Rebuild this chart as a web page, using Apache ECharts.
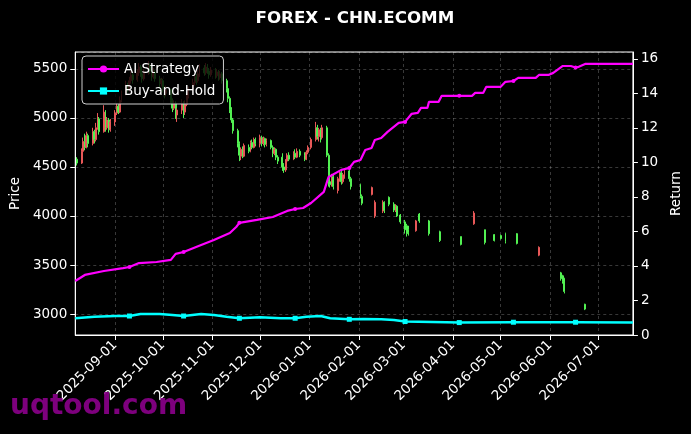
<!DOCTYPE html>
<html>
<head>
<meta charset="utf-8">
<script src="https://cdn.jsdelivr.net/npm/echarts@6/dist/echarts.min.js"></script>
<style>
  html, body { margin: 0; padding: 0; background: #000; }
  #chart { width: 691px; height: 434px; }
</style>
</head>
<body>
<div id="chart"></div>
<script>
// daily candles: [date, open, close, low, high]
const ohlc = [
  ['2025-08-08', 4580, 4540, 4515, 4600],
  ['2025-08-11', 4540, 4660, 4530, 4690],
  ['2025-08-12', 4660, 4760, 4640, 4800],
  ['2025-08-13', 4760, 4700, 4670, 4840],
  ['2025-08-14', 4700, 4820, 4690, 4860],
  ['2025-08-15', 4820, 4740, 4700, 4840],
  ['2025-08-18', 4740, 4860, 4720, 4900],
  ['2025-08-19', 4860, 4780, 4740, 4880],
  ['2025-08-20', 4780, 4900, 4760, 4950],
  ['2025-08-21', 4900, 4990, 4880, 5050],
  ['2025-08-22', 4990, 4860, 4830, 5010],
  ['2025-08-25', 4860, 5060, 4850, 5130],
  ['2025-08-26', 5060, 4900, 4860, 5080],
  ['2025-08-27', 4900, 4980, 4880, 5010],
  ['2025-08-28', 4980, 4880, 4850, 5000],
  ['2025-08-29', 4880, 4960, 4860, 4990],
  ['2025-09-01', 4960, 5050, 4920, 5080],
  ['2025-09-02', 5050, 5120, 5030, 5150],
  ['2025-09-03', 5120, 5060, 5040, 5140],
  ['2025-09-04', 5060, 5180, 5050, 5220],
  ['2025-09-05', 5180, 5250, 5160, 5280],
  ['2025-09-08', 5250, 5330, 5230, 5380],
  ['2025-09-09', 5330, 5290, 5260, 5360],
  ['2025-09-10', 5290, 5380, 5270, 5420],
  ['2025-09-11', 5380, 5440, 5350, 5480],
  ['2025-09-12', 5440, 5390, 5350, 5460],
  ['2025-09-15', 5390, 5460, 5370, 5500],
  ['2025-09-16', 5460, 5520, 5430, 5560],
  ['2025-09-17', 5520, 5450, 5420, 5540],
  ['2025-09-18', 5450, 5400, 5360, 5480],
  ['2025-09-19', 5400, 5470, 5380, 5500],
  ['2025-09-22', 5470, 5530, 5440, 5580],
  ['2025-09-23', 5530, 5480, 5450, 5560],
  ['2025-09-24', 5480, 5420, 5380, 5500],
  ['2025-09-25', 5420, 5470, 5400, 5510],
  ['2025-09-26', 5470, 5400, 5370, 5490],
  ['2025-09-29', 5400, 5350, 5300, 5430],
  ['2025-09-30', 5350, 5380, 5320, 5410],
  ['2025-10-01', 5380, 5300, 5260, 5400],
  ['2025-10-02', 5300, 5250, 5200, 5320],
  ['2025-10-03', 5250, 5290, 5220, 5330],
  ['2025-10-06', 5290, 5180, 5150, 5300],
  ['2025-10-07', 5180, 5100, 5060, 5200],
  ['2025-10-08', 5100, 5150, 5080, 5180],
  ['2025-10-09', 5150, 5030, 4990, 5170],
  ['2025-10-10', 5030, 5080, 4960, 5100],
  ['2025-10-13', 5080, 5150, 5040, 5190],
  ['2025-10-14', 5150, 5060, 5000, 5170],
  ['2025-10-15', 5060, 5140, 5030, 5180],
  ['2025-10-16', 5140, 5220, 5120, 5250],
  ['2025-10-17', 5220, 5290, 5200, 5320],
  ['2025-10-20', 5290, 5360, 5270, 5400],
  ['2025-10-21', 5360, 5420, 5330, 5460],
  ['2025-10-22', 5420, 5380, 5340, 5450],
  ['2025-10-23', 5380, 5450, 5360, 5490],
  ['2025-10-24', 5450, 5510, 5420, 5550],
  ['2025-10-27', 5510, 5460, 5430, 5540],
  ['2025-10-28', 5460, 5520, 5440, 5560],
  ['2025-10-29', 5520, 5480, 5450, 5550],
  ['2025-10-30', 5480, 5440, 5400, 5510],
  ['2025-10-31', 5440, 5490, 5420, 5520],
  ['2025-11-03', 5490, 5430, 5400, 5510],
  ['2025-11-04', 5430, 5470, 5410, 5500],
  ['2025-11-05', 5470, 5410, 5380, 5490],
  ['2025-11-06', 5410, 5450, 5390, 5480],
  ['2025-11-07', 5450, 5380, 5350, 5470],
  ['2025-11-10', 5380, 5300, 5260, 5400],
  ['2025-11-11', 5300, 5200, 5160, 5320],
  ['2025-11-12', 5200, 5090, 5050, 5220],
  ['2025-11-13', 5090, 4980, 4950, 5110],
  ['2025-11-14', 4980, 4870, 4840, 5000],
  ['2025-11-17', 4870, 4740, 4700, 4890],
  ['2025-11-18', 4740, 4620, 4560, 4760],
  ['2025-11-19', 4610, 4680, 4570, 4700],
  ['2025-11-20', 4680, 4610, 4590, 4710],
  ['2025-11-21', 4610, 4720, 4600, 4740],
  ['2025-11-24', 4700, 4660, 4640, 4730],
  ['2025-11-25', 4660, 4750, 4650, 4770],
  ['2025-11-26', 4750, 4700, 4680, 4780],
  ['2025-11-27', 4700, 4780, 4690, 4800],
  ['2025-11-28', 4780, 4740, 4710, 4800],
  ['2025-12-01', 4740, 4800, 4700, 4830],
  ['2025-12-02', 4800, 4740, 4710, 4820],
  ['2025-12-03', 4740, 4790, 4720, 4810],
  ['2025-12-04', 4790, 4730, 4700, 4800],
  ['2025-12-05', 4730, 4770, 4710, 4790],
  ['2025-12-08', 4770, 4700, 4680, 4780],
  ['2025-12-09', 4700, 4640, 4600, 4720],
  ['2025-12-10', 4640, 4680, 4620, 4700],
  ['2025-12-11', 4680, 4600, 4570, 4690],
  ['2025-12-12', 4600, 4560, 4530, 4620],
  ['2025-12-15', 4600, 4500, 4460, 4640],
  ['2025-12-16', 4500, 4470, 4440, 4540],
  ['2025-12-17', 4470, 4560, 4450, 4580],
  ['2025-12-18', 4560, 4620, 4540, 4640],
  ['2025-12-19', 4620, 4580, 4560, 4650],
  ['2025-12-22', 4580, 4640, 4570, 4660],
  ['2025-12-23', 4640, 4600, 4580, 4680],
  ['2025-12-24', 4600, 4660, 4590, 4690],
  ['2025-12-26', 4660, 4620, 4600, 4680],
  ['2025-12-29', 4620, 4580, 4560, 4650],
  ['2025-12-30', 4580, 4650, 4570, 4670],
  ['2025-12-31', 4650, 4700, 4630, 4720],
  ['2026-01-02', 4700, 4780, 4680, 4800],
  ['2026-01-05', 4780, 4900, 4760, 4960],
  ['2026-01-06', 4900, 4810, 4780, 4930],
  ['2026-01-07', 4810, 4880, 4760, 4900],
  ['2026-01-08', 4880, 4800, 4750, 4900],
  ['2026-01-09', 4800, 4900, 4780, 4930],
  ['2026-01-12', 4900, 4620, 4600, 4920],
  ['2026-01-13', 4620, 4350, 4300, 4640],
  ['2026-01-14', 4350, 4320, 4290, 4440],
  ['2026-01-15', 4320, 4400, 4300, 4430],
  ['2026-01-16', 4400, 4300, 4270, 4430],
  ['2026-01-19', 4260, 4380, 4230, 4400],
  ['2026-01-20', 4380, 4440, 4350, 4460],
  ['2026-01-21', 4440, 4350, 4320, 4460],
  ['2026-01-22', 4350, 4420, 4330, 4440],
  ['2026-01-23', 4420, 4460, 4380, 4490],
  ['2026-01-26', 4460, 4380, 4350, 4480],
  ['2026-01-27', 4380, 4300, 4270, 4400],
  ['2026-02-02', 4320, 4200, 4180, 4330],
  ['2026-02-03', 4200, 4130, 4110, 4220],
  ['2026-02-09', 4220, 4290, 4210, 4300],
  ['2026-02-11', 4000, 4140, 3980, 4160],
  ['2026-02-16', 4050, 4140, 4030, 4160],
  ['2026-02-17', 4140, 4060, 4030, 4150],
  ['2026-02-20', 4190, 4120, 4100, 4200],
  ['2026-02-23', 4120, 4060, 4040, 4140],
  ['2026-02-24', 4060, 4100, 4040, 4120],
  ['2026-02-25', 4100, 4000, 3990, 4110],
  ['2026-02-27', 4010, 3940, 3920, 4020],
  ['2026-03-02', 3940, 3860, 3820, 3960],
  ['2026-03-03', 3900, 3820, 3790, 3920],
  ['2026-03-04', 3860, 3830, 3800, 3900],
  ['2026-03-09', 3850, 3950, 3840, 3960],
  ['2026-03-11', 4020, 3950, 3930, 4030],
  ['2026-03-17', 3950, 3820, 3800, 3960],
  ['2026-03-24', 3840, 3750, 3735, 3850],
  ['2026-04-06', 3790, 3710, 3700, 3790],
  ['2026-04-14', 3920, 4030, 3910, 4050],
  ['2026-04-21', 3860, 3730, 3710, 3860],
  ['2026-04-27', 3810, 3750, 3740, 3815],
  ['2026-05-01', 3800, 3770, 3760, 3810],
  ['2026-05-04', 3820, 3740, 3720, 3830],
  ['2026-05-11', 3820, 3720, 3710, 3825],
  ['2026-05-25', 3600, 3680, 3590, 3690],
  ['2026-06-08', 3420, 3360, 3340, 3430],
  ['2026-06-09', 3390, 3330, 3310, 3400],
  ['2026-06-10', 3360, 3230, 3210, 3370],
  ['2026-06-23', 3100, 3050, 3040, 3105]
];

const aiDates = [
  '2025-08-07', '2025-08-13', '2025-08-25', '2025-09-06', '2025-09-10', '2025-09-16',
  '2025-09-27', '2025-10-06', '2025-10-09', '2025-10-14', '2025-10-25', '2025-11-02',
  '2025-11-12', '2025-11-16', '2025-11-18', '2025-11-19', '2025-11-29', '2025-12-09',
  '2025-12-18', '2025-12-23', '2025-12-28', '2026-01-02', '2026-01-10', '2026-01-13',
  '2026-01-21', '2026-01-26', '2026-01-29', '2026-02-02', '2026-02-05', '2026-02-09',
  '2026-02-11', '2026-02-15', '2026-02-19', '2026-02-26', '2026-03-02', '2026-03-06',
  '2026-03-10', '2026-03-12', '2026-03-16', '2026-03-17', '2026-03-23', '2026-03-25',
  '2026-04-05', '2026-04-13', '2026-04-15', '2026-04-20', '2026-04-22', '2026-05-01',
  '2026-05-04', '2026-05-09', '2026-05-12', '2026-05-23', '2026-05-25', '2026-05-31',
  '2026-06-03', '2026-06-09', '2026-06-14', '2026-06-17', '2026-06-19', '2026-06-23',
  '2026-07-23'
];
const aiValues = [
  3.13, 3.48, 3.71, 3.88, 3.94, 4.17,
  4.23, 4.35, 4.70, 4.81, 5.22, 5.51,
  5.91, 6.26, 6.50, 6.55, 6.67, 6.84,
  7.19, 7.30, 7.36, 7.65, 8.29, 9.16,
  9.57, 9.68, 10.03, 10.14, 10.72, 10.84,
  11.30, 11.42, 11.77, 12.29, 12.35, 12.81,
  12.87, 13.16, 13.16, 13.51, 13.51, 13.86,
  13.86, 13.86, 14.03, 14.03, 14.38, 14.38,
  14.67, 14.72, 14.90, 14.90, 15.07, 15.07,
  15.19, 15.59, 15.59, 15.50, 15.54, 15.71,
  15.71
];

const bhDates = [
  '2025-08-07', '2025-08-19', '2025-09-01', '2025-09-10', '2025-09-17', '2025-09-29',
  '2025-10-07', '2025-10-14', '2025-10-25', '2025-11-02', '2025-11-10', '2025-11-18',
  '2025-12-01', '2025-12-14', '2025-12-23', '2025-12-30', '2026-01-08', '2026-01-14',
  '2026-01-26', '2026-02-04', '2026-02-15', '2026-02-23', '2026-03-02', '2026-04-05',
  '2026-05-09', '2026-06-17', '2026-07-23'
];
const bhValues = [
  0.97, 1.06, 1.10, 1.10, 1.22, 1.22,
  1.16, 1.10, 1.22, 1.16, 1.06, 0.97,
  1.03, 0.97, 0.97, 1.06, 1.10, 0.97,
  0.91, 0.93, 0.91, 0.87, 0.78, 0.72,
  0.74, 0.74, 0.72
];

// dates that carry a marker on both return lines
const markerDates = [
  '2025-09-10', '2025-10-14', '2025-11-18', '2025-12-23', '2026-01-26',
  '2026-03-02', '2026-04-05', '2026-05-09', '2026-06-17'
];

const FONT = 'DejaVu Sans';
const gridLine = { show: true, lineStyle: { color: 'rgba(255,255,255,0.28)', type: [3, 3], width: 0.8 } };

function withMarkers(dates, values) {
  return dates.map((d, i) => ({
    value: [d, values[i]],
    symbol: markerDates.includes(d) ? undefined : 'none'
  }));
}

const chart = echarts.init(document.getElementById('chart'));
chart.setOption({
  backgroundColor: '#000',
  animation: false,
  textStyle: { fontFamily: FONT },
  grid: { left: 75, right: 57, top: 52, bottom: 99, show: true, borderColor: '#fff', borderWidth: 1 },
  legend: {
    data: ['AI Strategy', 'Buy-and-Hold'],
    orient: 'vertical',
    left: 82, top: 56,
    padding: [6, 8, 6, 5],
    itemGap: 8,
    itemWidth: 31, itemHeight: 9,
    backgroundColor: 'rgba(0,0,0,0.8)',
    borderColor: '#cfcfcf', borderWidth: 1, borderRadius: 4,
    textStyle: { color: '#fff', fontSize: 13.5, fontFamily: FONT }
  },
  graphic: [
    {
      type: 'text', left: 354.5 - 99, top: 10,
      style: { text: 'FOREX - CHN.ECOMM', fill: '#fff', font: 'bold 16.7px "DejaVu Sans"' }
    },
    {
      type: 'text', left: 10, top: 393, z: 100,
      style: { text: 'uqtool.com', fill: 'rgba(139,0,139,0.9)', font: 'bold 28px "DejaVu Sans"' }
    }
  ],
  xAxis: {
    type: 'time',
    min: '2025-08-07', max: '2026-07-23',
    splitNumber: 12,
    minInterval: 28 * 86400000,
    maxInterval: 31 * 86400000,
    axisLine: { lineStyle: { color: '#fff' } },
    axisTick: { show: true, length: 5, lineStyle: { color: '#fff' } },
    axisLabel: {
      color: '#fff', fontSize: 13.5, fontFamily: FONT, rotate: 45, margin: 8,
      showMinLabel: false, showMaxLabel: false,
      formatter: '{yyyy}-{MM}-{dd}'
    },
    splitLine: gridLine
  },
  yAxis: [
    {
      type: 'value', position: 'left',
      min: 2786, max: 5673, splitNumber: 6,
      name: 'Price', nameLocation: 'middle', nameGap: 52,
      nameTextStyle: { color: '#fff', fontSize: 13.5, fontFamily: FONT },
      axisLine: { show: true, lineStyle: { color: '#fff' } },
      axisTick: { show: true, length: 5, lineStyle: { color: '#fff' } },
      axisLabel: { color: '#fff', fontSize: 13.5, fontFamily: FONT, margin: 8,
        showMinLabel: false, showMaxLabel: false, formatter: v => String(v) },
      splitLine: gridLine
    },
    {
      type: 'value', position: 'right',
      min: 0, max: 16.4, splitNumber: 8,
      name: 'Return', nameLocation: 'middle', nameGap: 33,
      nameTextStyle: { color: '#fff', fontSize: 13.5, fontFamily: FONT },
      axisLine: { show: true, lineStyle: { color: '#fff' } },
      axisTick: { show: true, length: 5, lineStyle: { color: '#fff' } },
      axisLabel: { color: '#fff', fontSize: 13.5, fontFamily: FONT, margin: 8,
        showMaxLabel: false, formatter: v => String(v) },
      splitLine: { show: false }
    }
  ],
  series: [
    {
      name: 'Price',
      type: 'candlestick',
      data: ohlc,
      encode: { x: 0, y: [1, 2, 3, 4] },
      barWidth: 1.4,
      itemStyle: {
        color: '#e85858', color0: '#52f052',
        borderColor: '#e85858', borderColor0: '#52f052', borderWidth: 1
      },
      z: 2
    },
    {
      name: 'AI Strategy',
      type: 'line',
      yAxisIndex: 1,
      data: withMarkers(aiDates, aiValues),
      symbol: 'circle', symbolSize: 4, showSymbol: true,
      lineStyle: { color: '#ff00ff', width: 2.2 },
      itemStyle: { color: '#ff00ff' },
      z: 3
    },
    {
      name: 'Buy-and-Hold',
      type: 'line',
      yAxisIndex: 1,
      data: withMarkers(bhDates, bhValues),
      symbol: 'rect', symbolSize: 5, showSymbol: true,
      lineStyle: { color: '#00ffff', width: 2.5 },
      itemStyle: { color: '#00ffff' },
      z: 3
    }
  ]
});
</script>
</body>
</html>
